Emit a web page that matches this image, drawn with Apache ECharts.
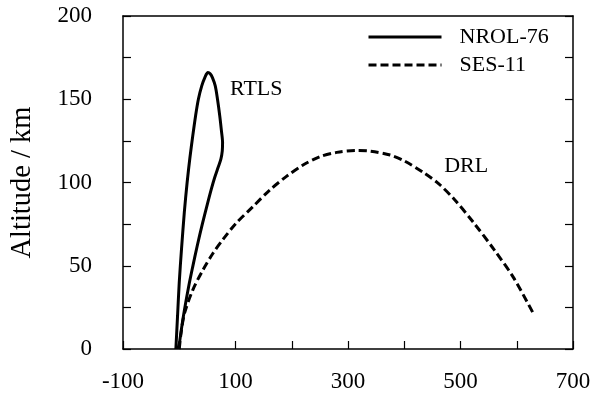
<!DOCTYPE html>
<html>
<head>
<meta charset="utf-8">
<script src="https://cdn.jsdelivr.net/npm/echarts@6/dist/echarts.min.js"></script>
<style>
  html, body { margin: 0; padding: 0; background: #fff; }
  #chart { width: 603px; height: 396px; }
</style>
</head>
<body>
<div id="chart"></div>
<script>
// trajectory points [downrange, altitude] in path order
var nrol76 = [
  [-6, 0], [-3, 20], [0, 40], [4, 60], [9, 82], [14, 100], [19, 115],
  [24, 128], [29, 140], [34, 150], [40, 158], [46, 163.5], [51, 166],
  [55, 165.3], [59, 163], [64, 158], [68, 150], [72, 140], [75, 131],
  [77, 124], [76.5, 119], [74, 114], [69, 109], [63, 103], [57, 96],
  [50, 87], [41, 75], [32, 62], [24, 49.5], [17, 38], [9, 23], [3, 10], [-1, 0]
];
var ses11 = [
  [0, 0], [3, 9], [9, 21], [24, 35.4], [42, 47.4], [60, 57.5], [77, 65.5],
  [101, 75.5], [131, 85.5], [161, 95.5], [190, 103.5], [220, 110.5],
  [250, 115.5], [280, 118.1], [316, 119.2], [340, 118.8], [375, 116.5],
  [400, 113], [434, 106], [462, 99], [490, 89.5], [523, 76], [559, 60],
  [594, 43], [630, 21]
];
var seriesNames = ['NROL-76', 'SES-11'];
// text labels next to the curves, in data coordinates
var notes = [
  { text: 'RTLS', coord: [137, 156] },
  { text: 'DRL', coord: [510, 110] }
];

var font = "'Liberation Serif', serif";
var chart = echarts.init(document.getElementById('chart'));

var frame = { show: true, onZero: false, lineStyle: { color: '#000', width: 1.5 } };
var tick = { show: true, inside: true, length: 8, lineStyle: { color: '#000', width: 1.2 } };
var minor = { show: true, splitNumber: 2, length: 8, lineStyle: { color: '#000', width: 1.2 } };

chart.setOption({
  animation: false,
  backgroundColor: '#fff',
  grid: { left: 123, right: 30, top: 16, bottom: 47 },
  legend: {
    data: seriesNames,
    orient: 'vertical',
    left: 367,
    top: 26,
    padding: 0,
    itemWidth: 73,
    itemHeight: 14,
    itemGap: 6,
    itemStyle: { opacity: 0 },
    lineStyle: { width: 3 },
    textStyle: { fontFamily: font, fontSize: 22, color: '#000', padding: [0, 0, 0, 13] }
  },
  xAxis: [
    {
      type: 'value', min: -100, max: 700, interval: 200,
      axisLine: frame, axisTick: tick, minorTick: minor,
      splitLine: { show: false },
      axisLabel: { fontFamily: font, fontSize: 23, color: '#000', margin: 21 }
    },
    {
      type: 'value', position: 'top', min: -100, max: 700,
      axisLine: frame, axisTick: { show: false }, axisLabel: { show: false }, splitLine: { show: false }
    }
  ],
  yAxis: [
    {
      type: 'value', min: 0, max: 200, interval: 50,
      name: 'Altitude / km', nameLocation: 'middle', nameGap: 86,
      nameTextStyle: { fontFamily: font, fontSize: 28.5, color: '#000' },
      axisLine: frame, axisTick: tick, minorTick: minor,
      splitLine: { show: false },
      axisLabel: { fontFamily: font, fontSize: 23, color: '#000', margin: 31 }
    },
    {
      type: 'value', position: 'right', min: 0, max: 200, interval: 50,
      axisLine: frame, axisTick: tick, minorTick: minor,
      axisLabel: { show: false }, splitLine: { show: false }
    }
  ],
  series: [
    {
      name: seriesNames[0], type: 'line', data: nrol76,
      smooth: 0.3, showSymbol: false, symbol: 'none',
      lineStyle: { color: '#000', width: 3, type: 'solid' },
      itemStyle: { color: '#000' },
      markPoint: {
        symbol: 'circle', symbolSize: 0,
        label: { show: true, position: 'inside', formatter: '{b}', fontFamily: font, fontSize: 22, color: '#000' },
        data: [{ name: notes[0].text, coord: notes[0].coord }]
      }
    },
    {
      name: seriesNames[1], type: 'line', data: ses11,
      smooth: 0.3, showSymbol: false, symbol: 'none',
      lineStyle: { color: '#000', width: 3, type: [8, 4] },
      itemStyle: { color: '#000' },
      markPoint: {
        symbol: 'circle', symbolSize: 0,
        label: { show: true, position: 'inside', formatter: '{b}', fontFamily: font, fontSize: 22, color: '#000' },
        data: [{ name: notes[1].text, coord: notes[1].coord }]
      }
    }
  ]
});
</script>
</body>
</html>
